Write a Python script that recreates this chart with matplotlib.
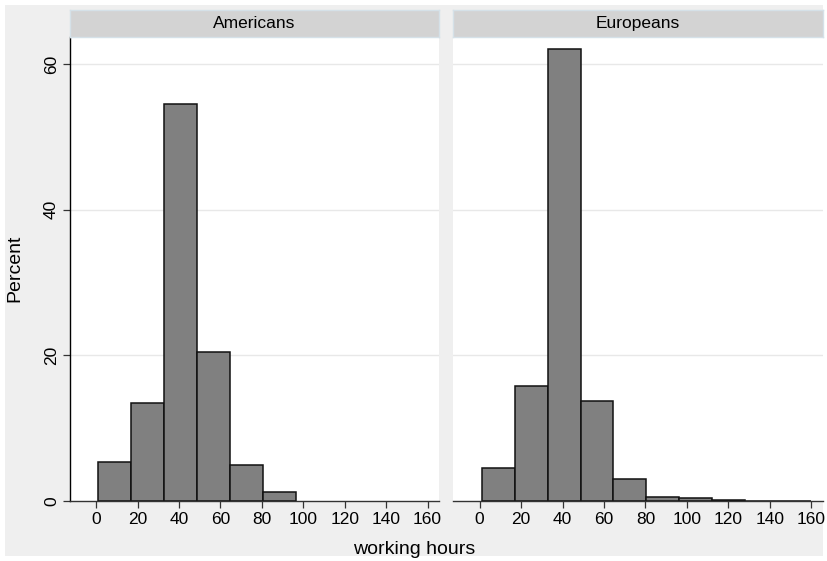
import matplotlib
matplotlib.use("Agg")
import matplotlib.pyplot as plt
from matplotlib.patches import Rectangle
import numpy as np

plt.rcParams['font.family'] = ['Liberation Sans', 'DejaVu Sans']

groups = ["Americans", "Europeans"]
bin_edges = [1, 16.9, 32.8, 48.7, 64.6, 80.5, 96.4, 112.3, 128.2, 144.1, 160]
americans_pct = [5.3, 13.5, 54.6, 20.4, 5.0, 1.2, 0.0, 0.0, 0.0, 0.0]
europeans_pct = [4.5, 15.8, 62.1, 13.7, 3.0, 0.6, 0.35, 0.15, 0.05, 0.05]
x_ticks = [0, 20, 40, 60, 80, 100, 120, 140, 160]
y_ticks = [0, 20, 40, 60]

W, H = 828, 561
fig = plt.figure(figsize=(W / 100, H / 100), dpi=100, facecolor="white")

def px(x0, y0, x1, y1):
    return [x0 / W, 1 - y1 / H, (x1 - x0) / W, (y1 - y0) / H]

# outer gray region
fig.patches.append(Rectangle((5 / W, 1 - 556 / H), (823 - 5) / W, (556 - 5) / H,
                             transform=fig.transFigure, facecolor="#efefef",
                             edgecolor="none", zorder=-10))

panels = [(70, 439.3), (453.3, 823)]
series = [americans_pct, europeans_pct]
edges = np.array(bin_edges)
widths = np.diff(edges)

for i, ((x0, x1), vals, name) in enumerate(zip(panels, series, groups)):
    ax = fig.add_axes(px(x0, 37.3, x1, 501))
    ax.set_facecolor("white")
    vals = np.array(vals)
    keep = vals > 0
    ax.bar(edges[:-1][keep], vals[keep], width=widths[keep], align="edge",
           color="#808080", edgecolor="#111111", linewidth=1.1, zorder=3)
    ax.set_xlim(-12.7, 165.7)
    ax.set_ylim(0, 63.7)
    for yv in y_ticks[1:]:
        ax.axhline(yv, color="#e8e8e8", linewidth=1.0, zorder=1)
    ax.set_xticks(x_ticks)
    ax.set_xticklabels([str(t) for t in x_ticks], fontsize=12.5)
    ax.tick_params(axis="x", length=5, width=0.9, color="#333333", pad=3)
    for s in ["top", "right"]:
        ax.spines[s].set_visible(False)
    ax.spines["bottom"].set_color("#333333")
    ax.spines["bottom"].set_linewidth(1.0)
    ax.spines["bottom"].set_zorder(4)
    if i == 0:
        ax.spines["left"].set_color("#000000")
        ax.spines["left"].set_linewidth(1.0)
        ax.set_yticks(y_ticks)
        ax.set_yticklabels([str(t) for t in y_ticks], fontsize=12.5, rotation=90,
                           va="center")
        ax.tick_params(axis="y", length=5, width=0.9, color="#333333", pad=3)
    else:
        ax.spines["left"].set_visible(False)
        ax.set_yticks([])
    # strip
    sax = fig.add_axes(px(x0, 10, x1, 37.3))
    sax.set_facecolor("#d3d3d3")
    sax.set_xticks([])
    sax.set_yticks([])
    for s in sax.spines.values():
        s.set_color("#d5e1e8")
        s.set_linewidth(1.0)
    sax.text(0.5, 0.5, name, ha="center", va="center", fontsize=12.5,
             transform=sax.transAxes)

fig.text(414 / W, 1 - 549 / H, "working hours", ha="center", va="center", fontsize=14)
fig.text(15 / W, 1 - 268 / H, "Percent", ha="center", va="center", fontsize=14,
         rotation=90)

fig.savefig("out.png", dpi=100, facecolor=fig.get_facecolor())
